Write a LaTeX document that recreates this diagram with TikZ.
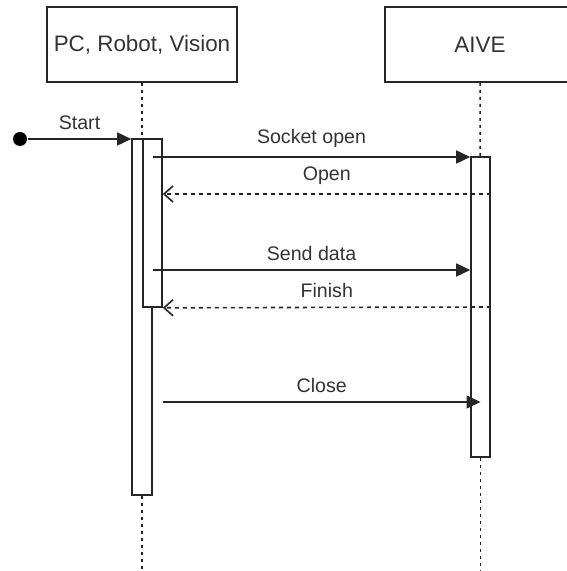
\documentclass[tikz,border=0pt]{standalone}
\usepackage{fontspec}
\setmainfont{Liberation Sans}
\usetikzlibrary{arrows.meta,fit}

\begin{document}
\begin{tikzpicture}[x=0.5pt,y=-0.5pt,line width=0.8pt,
	head/.style={draw=black!85,minimum width=95pt,minimum height=37.5pt,inner sep=0pt,text=black!80,font=\fontsize{11.2}{13}\selectfont},
	bar/.style={draw=black!85,fill=white,inner sep=0pt},
	life/.style={draw=black!85,dash pattern=on 1.5pt off 2pt},
	call/.style={draw=black!85,-{Triangle[length=7pt,width=6.5pt]}},
	reply/.style={draw=black!85,dash pattern=on 2pt off 2pt,-{Straight Barb[length=4.5pt,width=8pt]}},
	lbl/.style={text=black!80,font=\fontsize{9.8}{12}\selectfont,inner sep=1pt,above=3.5pt}]
	\useasboundingbox (0,0) rectangle (566,571);
	% lifeline heads
	\node[head] (pc) at (142,44.5) {PC, Robot, Vision};
	\node[head] (aive) at (480,44.5) {AIVE};
	% message rows
	\coordinate (r1) at (0,157);
	\coordinate (r2) at (0,194);
	\coordinate (r3) at (0,270);
	\coordinate (r4) at (0,307);
	\coordinate (r5) at (0,402);
	\coordinate (bot) at (0,571);
	% activations
	\node[bar,fit={(132,139) (152,495)}] (outer) {};
	\node[bar,fit={(143,139) (162,307)}] (inner) {};
	\node[bar,fit={(471,157) (490,457)}] (act) {};
	\draw[life] (pc) -- (outer);
	\draw[life] (outer.south) -- (outer.south |- bot);
	\draw[life] (aive) -- (act);
	\draw[life] (act.south) -- (act.south |- bot);
	% messages
	\node[circle,fill=black,inner sep=0pt,minimum size=7pt] (start) at (20,139) {};
	\draw[call] (start) -- (outer.west |- start) node[lbl,midway] {Start};
	\draw[call] (outer.east |- r1) -- (act.west |- r1) node[lbl,midway] {Socket open};
	\draw[reply] (act.east |- r2) -- (inner.east |- r2) node[lbl,midway] {Open};
	\draw[call] (outer.east |- r3) -- (act.west |- r3) node[lbl,midway] {Send data};
	\draw[reply] (act.east |- r4) -- (inner.south east) node[lbl,midway] {Finish};
	\draw[call] (inner.east |- r5) -- (act.center |- r5) node[lbl,midway] {Close};
\end{tikzpicture}
\end{document}
